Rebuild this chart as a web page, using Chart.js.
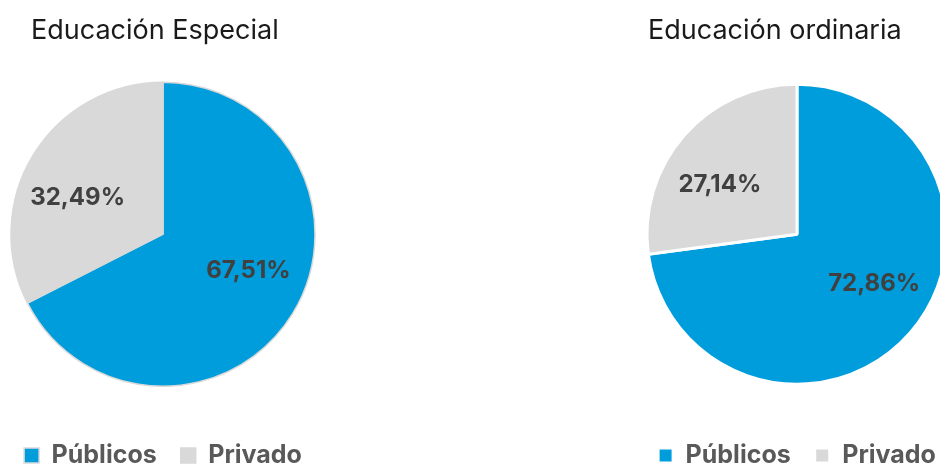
<!DOCTYPE html>
<html>
<head>
<meta charset="utf-8">
<script src="https://cdn.jsdelivr.net/npm/chart.js@4"></script>
<style>
html, body { margin: 0; padding: 0; background: #fff; width: 940px; height: 466px; overflow: hidden; }
.box { position: absolute; top: 0; height: 478px; }
#left { left: -20px; width: 370px; }
#right { left: 617px; width: 364px; }
</style>
</head>
<body>
<div class="box" id="left"><canvas id="c1"></canvas></div>
<div class="box" id="right"><canvas id="c2"></canvas></div>
<script>
const categories = ['Públicos', 'Privado'];
const especial = [67.51, 32.49];
const ordinaria = [72.86, 27.14];
const titles = ['Educación Especial', 'Educación ordinaria'];
const colors = ['#009ddc', '#d9d9d9'];

// writes the percentage inside each slice, and nudges the title
const pieLabels = {
    id: 'pieLabels',
    afterLayout(chart, args, opts) {
        chart.titleBlock.left = opts.titleX;
    },
    afterDatasetsDraw(chart) {
        const ctx = chart.ctx;
        const meta = chart.getDatasetMeta(0);
        const values = chart.data.datasets[0].data;
        ctx.save();
        ctx.font = 'bold 24px Inter';
        ctx.fillStyle = '#404040';
        ctx.textAlign = 'center';
        ctx.textBaseline = 'middle';
        meta.data.forEach((arc, i) => {
            // labels sit a little before the middle of the slice
            const mid = (arc.startAngle + arc.endAngle) / 2 - 0.15;
            const r = arc.outerRadius * 0.61;
            const txt = values[i].toFixed(2).replace('.', ',') + '%';
            ctx.fillText(txt, arc.x + Math.cos(mid) * r, arc.y + Math.sin(mid) * r);
        });
        ctx.restore();
    }
};

function makePie(id, title, values, radius, border, borderWidth, titleX) {
    return new Chart(document.getElementById(id), {
        type: 'pie',
        data: {
            labels: categories,
            datasets: [{
                data: values,
                backgroundColor: colors,
                borderColor: border,
                borderWidth: borderWidth,
                radius: radius,
                clip: false
            }]
        },
        options: {
            responsive: true,
            maintainAspectRatio: false,
            animation: false,
            layout: { padding: { left: 10, right: 14, top: 0, bottom: 0 } },
            plugins: {
                title: {
                    display: true,
                    text: title,
                    align: 'start',
                    color: '#1a1a1a',
                    font: { family: 'Inter', size: 27, weight: 'normal' },
                    padding: { top: 15, bottom: 2 }
                },
                legend: {
                    position: 'bottom',
                    labels: {
                        boxWidth: 15,
                        boxHeight: 15,
                        padding: 24,
                        color: '#595959',
                        font: { family: 'Inter', size: 25, weight: 'bold' }
                    }
                },
                pieLabels: { titleX: titleX },
                tooltip: { enabled: false }
            }
        },
        plugins: [pieLabels]
    });
}

makePie('c1', titles[0], especial, 152, '#d9d9d9', 1.5, 51);
makePie('c2', titles[1], ordinaria, 150, '#ffffff', 3, 31);
</script>
</body>
</html>
